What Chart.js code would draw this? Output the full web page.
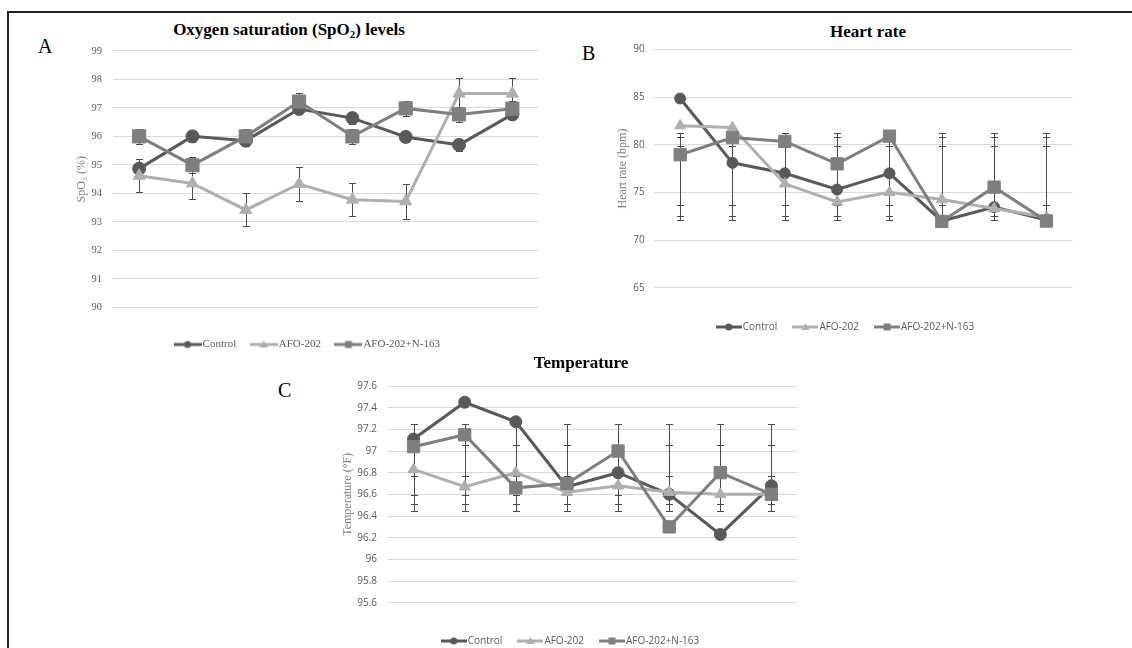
<!DOCTYPE html>
<html>
<head>
<meta charset="utf-8">
<script src="https://cdn.jsdelivr.net/npm/chart.js@4.4.1/dist/chart.umd.min.js"></script>
<style>
  html, body { margin: 0; padding: 0; background: #fff; overflow: hidden; }
  body { width: 1132px; height: 648px; position: relative; }
  .frame { position: absolute; left: 7px; top: 11px; right: 0; bottom: 0; border-top: 2px solid #222; border-left: 2px solid #222; }
  .panel { position: absolute; font-family: "Liberation Serif", serif; font-size: 20px; line-height: 20px; color: #000; }
  .title { position: absolute; font-family: "Liberation Serif", serif; font-weight: bold; font-size: 17px; line-height: 17px; color: #000; transform: translateX(-50%); white-space: nowrap; }
  .title sub { font-size: 11px; vertical-align: -3px; line-height: 0; }
  canvas { position: absolute; }
</style>
</head>
<body>
<div class="frame"></div>

<div class="panel" style="left:38px;top:36px">A</div>
<div class="title" style="left:289px;top:21px">Oxygen saturation (SpO<sub>2</sub>) levels</div>
<canvas id="spo2" width="498" height="326" style="left:60px;top:34px;width:498px;height:326px"></canvas>

<div class="panel" style="left:582px;top:43px">B</div>
<div class="title" style="left:868px;top:23px">Heart rate</div>
<canvas id="heart" width="494" height="308" style="left:600px;top:34px;width:494px;height:308px"></canvas>

<div class="panel" style="left:278px;top:380px">C</div>
<div class="title" style="left:581px;top:354px">Temperature</div>
<canvas id="temp" width="504" height="287" style="left:320px;top:369px;width:504px;height:287px"></canvas>

<script>
const days = ["Day-0", "Day-2", "Day-3", "Day-4", "Day-5", "Day-6", "Day-15", "Day-30"];

// A - SpO2 (%), mean and SD
const spo2Control = [94.87, 96.0, 95.85, 96.96, 96.64, 95.98, 95.7, 96.77];
const spo2Afo = [94.62, 94.35, 93.42, 94.33, 93.78, 93.72, 97.5, 97.5];
const spo2Combo = [96.0, 94.99, 96.0, 97.22, 96.0, 96.98, 96.77, 96.97];
const spo2ControlSd = [0.32, 0.2, 0.2, 0.15, 0.22, 0.18, 0.22, 0.15];
const spo2AfoSd = [0.58, 0.56, 0.58, 0.58, 0.58, 0.6, 0.56, 0.56];
const spo2ComboSd = [0.27, 0.27, 0.27, 0.3, 0.27, 0.27, 0.27, 0.27];

// B - heart rate (bpm), error bar ends as drawn
const hrControl = [84.85, 78.1, 77.0, 75.3, 77.0, 72.0, 73.45, 72.1];
const hrAfo = [82.0, 81.8, 75.9, 74.0, 75.0, 74.25, 73.3, 72.4];
const hrCombo = [78.95, 80.75, 80.35, 78.0, 80.9, 71.95, 75.55, 72.0];
const hrControlLow = [72.08, 72.08, 72.08, 72.08, 72.08, 72.08, 72.08, 72.08];
const hrControlHigh = [81.25, 81.25, 81.25, 81.25, 81.25, 81.25, 81.25, 81.25];
const hrAfoLow = [72.57, 72.57, 72.57, 72.57, 72.57, 72.57, 72.57, 72.57];
const hrAfoHigh = [80.77, 80.77, 80.77, 80.77, 80.77, 80.77, 80.77, 80.77];
const hrComboLow = [73.65, 73.65, 73.65, 73.65, 73.65, 73.65, 73.65, 73.65];
const hrComboHigh = [79.86, 79.86, 79.86, 79.86, 79.86, 79.86, 79.86, 79.86];

// C - temperature (°F), error bar ends as drawn
const tempControl = [97.11, 97.45, 97.27, 96.67, 96.8, 96.6, 96.23, 96.68];
const tempAfo = [96.83, 96.67, 96.8, 96.62, 96.68, 96.62, 96.6, 96.6];
const tempCombo = [97.04, 97.15, 96.66, 96.7, 97.0, 96.3, 96.8, 96.6];
const tempControlLow = [96.45, 96.45, 96.45, 96.45, 96.45, 96.45, 96.45, 96.45];
const tempControlHigh = [97.25, 97.25, 97.25, 97.25, 97.25, 97.25, 97.25, 97.25];
const tempAfoLow = [96.51, 96.51, 96.51, 96.51, 96.51, 96.51, 96.51, 96.51];
const tempAfoHigh = [97.06, 97.06, 97.06, 97.06, 97.06, 97.06, 97.06, 97.06];
const tempComboLow = [96.59, 96.59, 96.59, 96.59, 96.59, 96.59, 96.59, 96.59];
const tempComboHigh = [96.77, 96.77, 96.77, 96.77, 96.77, 96.77, 96.77, 96.77];

const dark = "#595959";
const light = "#afafaf";
const mid = "#7f7f7f";
const tickColor = "#595959";

// little line + marker picture used as legend symbol
function legendIcon(color, style, w, r) {
  const c = document.createElement("canvas");
  c.width = w;
  c.height = 14;
  const g = c.getContext("2d");
  g.strokeStyle = color;
  g.fillStyle = color;
  g.lineWidth = 3;
  g.beginPath();
  g.moveTo(0, 7);
  g.lineTo(w, 7);
  g.stroke();
  g.beginPath();
  const cx = w / 2;
  if (style === "circle") {
    g.arc(cx, 7, r, 0, Math.PI * 2);
  } else if (style === "rect") {
    g.rect(cx - r, 7 - r, 2 * r, 2 * r);
  } else {
    g.moveTo(cx, 7 - r);
    g.lineTo(cx + r, 7 + r * 0.75);
    g.lineTo(cx - r, 7 + r * 0.75);
    g.closePath();
  }
  g.fill();
  return c;
}

function series(label, data, color, style, radius, order, err, icon) {
  return Object.assign({
    label: label,
    data: data,
    borderColor: color,
    backgroundColor: color,
    borderWidth: 3,
    pointStyle: style,
    pointRadius: radius,
    pointHoverRadius: radius,
    pointBorderWidth: 1,
    pointBackgroundColor: color,
    pointBorderColor: color,
    tension: 0,
    order: order,
    icon: icon,
  }, err);
}

const errorBars = {
  id: "errorBars",
  beforeDatasetsDraw(chart) {
    const ctx = chart.ctx;
    const y = chart.scales.y;
    ctx.save();
    ctx.strokeStyle = "#4a4a4a";
    ctx.lineWidth = 1;
    chart.data.datasets.forEach((ds, i) => {
      const meta = chart.getDatasetMeta(i);
      meta.data.forEach((pt, j) => {
        let lo, hi;
        if (ds.sd) {
          lo = ds.data[j] - ds.sd[j];
          hi = ds.data[j] + ds.sd[j];
        } else {
          lo = ds.errLow[j];
          hi = ds.errHigh[j];
        }
        const x = Math.round(pt.x) + 0.5;
        const y0 = Math.round(y.getPixelForValue(lo)) + 0.5;
        const y1 = Math.round(y.getPixelForValue(hi)) + 0.5;
        ctx.beginPath();
        ctx.moveTo(x, y0);
        ctx.lineTo(x, y1);
        ctx.moveTo(x - 3.5, y0);
        ctx.lineTo(x + 3.5, y0);
        ctx.moveTo(x - 3.5, y1);
        ctx.lineTo(x + 3.5, y1);
        ctx.stroke();
      });
    });
    ctx.restore();
  },
};

function options(o) {
  return {
    responsive: false,
    animation: false,
    layout: { padding: { top: 10, left: 0, right: 0, bottom: 0 } },
    plugins: {
      legend: {
        position: "bottom",
        labels: {
          usePointStyle: true,
          pointStyleWidth: o.boxW,
          padding: o.legendPad,
          color: tickColor,
          font: o.legendFont,
          generateLabels: (chart) =>
            chart.data.datasets.map((ds, i) => ({
              text: ds.label,
              pointStyle: ds.icon,
              fillStyle: ds.borderColor,
              strokeStyle: ds.borderColor,
              lineWidth: 0,
              hidden: false,
              datasetIndex: i,
              fontColor: tickColor,
            })),
        },
      },
      tooltip: { enabled: false },
    },
    scales: {
      x: {
        offset: true,
        grid: { display: false },
        border: { display: false },
        ticks: { color: tickColor, font: o.xFont, padding: o.xPad, maxRotation: 0, autoSkip: false },
        afterFit: (s) => { s.height = o.xH; },
      },
      y: {
        min: o.min,
        max: o.max,
        ticks: {
          stepSize: o.step,
          color: tickColor,
          font: o.yFont,
          padding: o.yPad,
          callback: (v) => String(+Number(v).toFixed(1)),
        },
        grid: { color: "#d9d9d9", lineWidth: 1, drawTicks: false },
        border: { display: false },
        title: {
          display: true,
          text: o.yTitle,
          color: "#7f7f7f",
          font: { family: "Liberation Serif", size: 12 },
          padding: { top: o.yTitlePad, bottom: 0 },
        },
        afterFit: (s) => { s.width = o.yW; },
      },
      yR: {
        position: "right",
        grid: { display: false },
        border: { display: false },
        ticks: { display: false },
        afterFit: (s) => { s.width = o.rW; },
      },
    },
  };
}

const serif = "Liberation Serif";
const sans = "Open Sans";

new Chart(document.getElementById("spo2"), {
  type: "line",
  data: {
    labels: days,
    datasets: [
      series("Control", spo2Control, dark, "circle", 6.5, 2, { sd: spo2ControlSd }, legendIcon(dark, "circle", 28, 3.5)),
      series("AFO-202", spo2Afo, light, "triangle", 7, 1, { sd: spo2AfoSd }, legendIcon(light, "triangle", 28, 4)),
      series("AFO-202+N-163", spo2Combo, mid, "rect", 9.3, 0, { sd: spo2ComboSd }, legendIcon(mid, "rect", 28, 3.5)),
    ],
  },
  options: options({
    min: 90, max: 99, step: 1,
    yTitle: "SpO₂ (%)", yTitlePad: 14.8, yW: 52.5, yPad: 10.5, rW: 19,
    xH: 13.5, xPad: 9,
    xFont: { family: serif, size: 11 }, yFont: { family: serif, size: 10.5 },
    legendFont: { family: serif, size: 11 }, legendPad: 18, boxW: 19,
  }),
  plugins: [errorBars],
});

new Chart(document.getElementById("heart"), {
  type: "line",
  data: {
    labels: days,
    datasets: [
      series("Control", hrControl, dark, "circle", 5.5, 2, { errLow: hrControlLow, errHigh: hrControlHigh }, legendIcon(dark, "circle", 26, 3.5)),
      series("AFO-202", hrAfo, light, "triangle", 6.3, 1, { errLow: hrAfoLow, errHigh: hrAfoHigh }, legendIcon(light, "triangle", 26, 4)),
      series("AFO-202+N-163", hrCombo, mid, "rect", 8.7, 0, { errLow: hrComboLow, errHigh: hrComboHigh }, legendIcon(mid, "rect", 26, 3.5)),
    ],
  },
  options: options({
    min: 65, max: 90, step: 5,
    yTitle: "Heart rate (bpm)", yTitlePad: 15.5, yW: 54, yPad: 9.4, rW: 21.4,
    xH: 15.3, xPad: 9,
    xFont: { family: sans, size: 10 }, yFont: { family: sans, size: 10 },
    legendFont: { family: sans, size: 10 }, legendPad: 19, boxW: 18,
  }),
  plugins: [errorBars],
});

new Chart(document.getElementById("temp"), {
  type: "line",
  data: {
    labels: days,
    datasets: [
      series("Control", tempControl, dark, "circle", 6, 2, { errLow: tempControlLow, errHigh: tempControlHigh }, legendIcon(dark, "circle", 26, 3.5)),
      series("AFO-202", tempAfo, light, "triangle", 6.5, 1, { errLow: tempAfoLow, errHigh: tempAfoHigh }, legendIcon(light, "triangle", 26, 4)),
      series("AFO-202+N-163", tempCombo, mid, "rect", 8.7, 0, { errLow: tempComboLow, errHigh: tempComboHigh }, legendIcon(mid, "rect", 26, 3.5)),
    ],
  },
  options: options({
    min: 95.6, max: 97.6, step: 0.2,
    yTitle: "Temperature (°F)", yTitlePad: 20.7, yW: 68, yPad: 11, rW: 27,
    xH: 14.3, xPad: 8.6,
    xFont: { family: sans, size: 10 }, yFont: { family: sans, size: 10 },
    legendFont: { family: sans, size: 10 }, legendPad: 19, boxW: 18,
  }),
  plugins: [errorBars],
});
</script>
</body>
</html>
